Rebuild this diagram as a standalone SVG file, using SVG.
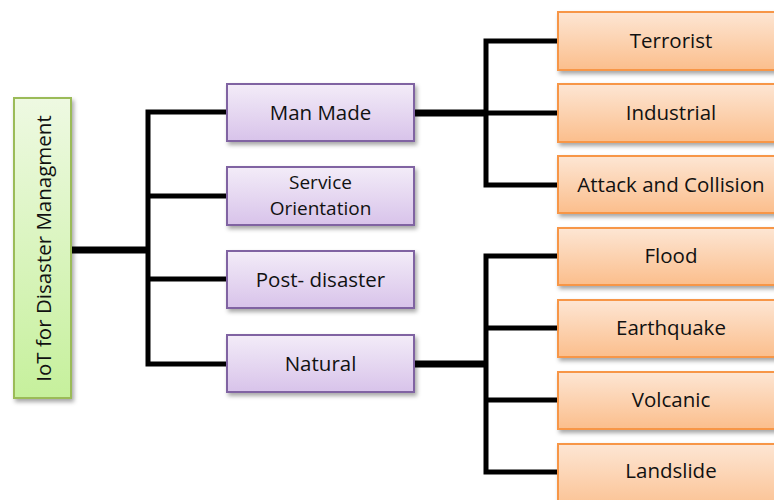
<svg xmlns="http://www.w3.org/2000/svg" width="774" height="500" viewBox="0 0 774 500">
<defs>
<linearGradient id="gGreen" x1="0" y1="0" x2="0" y2="1"><stop offset="0" stop-color="#eef9e2"/><stop offset="1" stop-color="#c6f09c"/></linearGradient>
<linearGradient id="gPurple" x1="0" y1="0" x2="0" y2="1"><stop offset="0" stop-color="#f3ecf8"/><stop offset="1" stop-color="#d8c3ea"/></linearGradient>
<linearGradient id="gOrange" x1="0" y1="0" x2="0" y2="1"><stop offset="0" stop-color="#fde6d4"/><stop offset="1" stop-color="#fbbe8c"/></linearGradient>
<filter id="sh" x="-10%" y="-10%" width="130%" height="140%"><feDropShadow dx="2" dy="3" stdDeviation="2" flood-color="#000" flood-opacity="0.35"/></filter>
</defs>
<style>
text{font-family:"Open Sans","Liberation Sans",sans-serif;font-size:20.5px;fill:#111;text-anchor:middle}
text.two{font-size:19px}
.green{fill:url(#gGreen);stroke:#9bbb59;stroke-width:2;filter:url(#sh)}
.purple{fill:url(#gPurple);stroke:#8064a2;stroke-width:2;filter:url(#sh)}
.orange{fill:url(#gOrange);stroke:#f79646;stroke-width:2;filter:url(#sh)}
.br{fill:none;stroke:#000;stroke-width:5;stroke-linejoin:miter}
.main{fill:none;stroke:#000;stroke-width:7}
</style>
<rect width="774" height="500" fill="#fff"/>
<g id="connectors">
<path class="main" d="M72,250H150"/>
<path class="br" d="M227,112H148V364H227M148,196H227M148,279H227"/>
<path class="main" d="M414,113H488"/>
<path class="br" d="M558,41H486V185H558M486,113H558"/>
<path class="main" d="M414,364H488"/>
<path class="br" d="M558,256H486V472H558M486,328H558M486,400H558"/>
</g>
<g id="root"><rect class="green" x="14" y="98" width="57" height="300"/><text transform="translate(51,248.5) rotate(-90)">IoT for Disaster Managment</text></g>
<g id="man-made"><rect class="purple" x="227" y="84" width="187" height="57"/><text x="320.5" y="120">Man Made</text></g>
<g id="service-orientation"><rect class="purple" x="227" y="167" width="187" height="58"/><text class="two" x="320.5" y="189">Service</text><text class="two" x="320.5" y="215">Orientation</text></g>
<g id="post-disaster"><rect class="purple" x="227" y="251" width="187" height="57"/><text x="320.5" y="287">Post- disaster</text></g>
<g id="natural"><rect class="purple" x="227" y="335" width="187" height="57"/><text x="320.5" y="371">Natural</text></g>
<g id="terrorist"><rect class="orange" x="558" y="12" width="240" height="58"/><text x="671" y="48">Terrorist</text></g>
<g id="industrial"><rect class="orange" x="558" y="84" width="240" height="58"/><text x="671" y="120">Industrial</text></g>
<g id="attack"><rect class="orange" x="558" y="156" width="240" height="57"/><text x="671" y="192">Attack and Collision</text></g>
<g id="flood"><rect class="orange" x="558" y="228" width="240" height="57"/><text x="671" y="263">Flood</text></g>
<g id="earthquake"><rect class="orange" x="558" y="300" width="240" height="57"/><text x="671" y="335">Earthquake</text></g>
<g id="volcanic"><rect class="orange" x="558" y="372" width="240" height="57"/><text x="671" y="407">Volcanic</text></g>
<g id="landslide"><rect class="orange" x="558" y="444" width="240" height="70"/><text x="671" y="478">Landslide</text></g>
</svg>
